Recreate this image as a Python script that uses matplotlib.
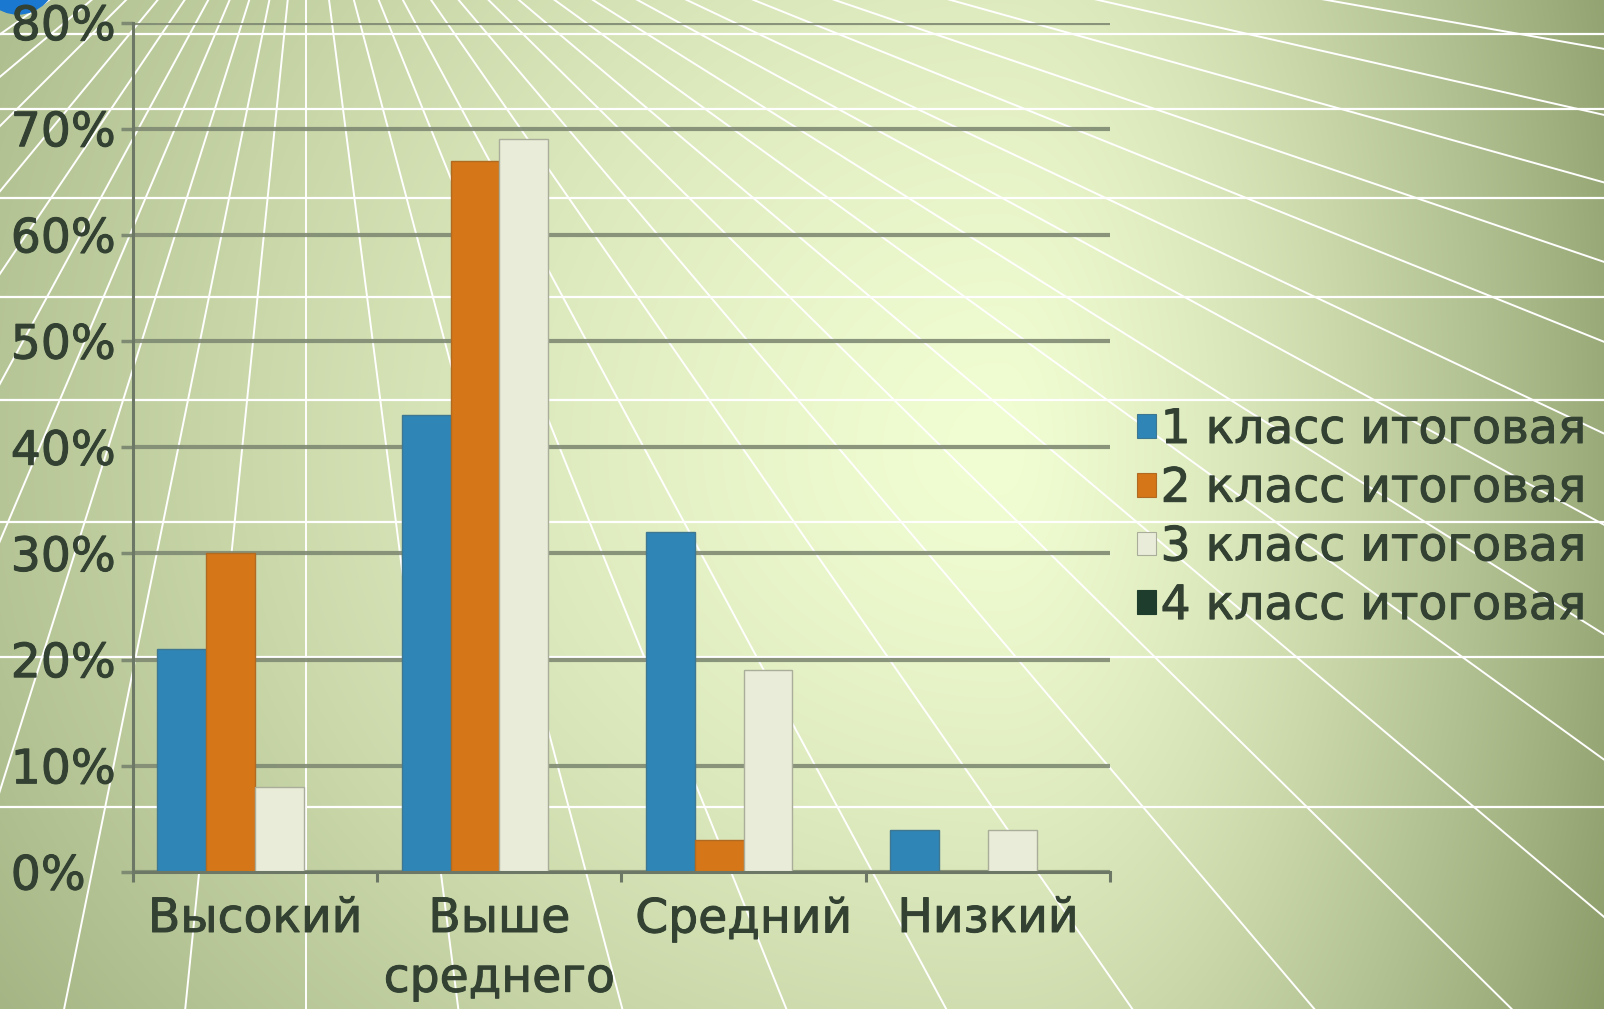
import numpy as np
import matplotlib.pyplot as plt
import matplotlib.patheffects as pe
from matplotlib.patches import Patch, Circle

# данные диаграммы
categories = ['Высокий', 'Выше\nсреднего', 'Средний', 'Низкий']
series_names = ['1 класс итоговая', '2 класс итоговая', '3 класс итоговая', '4 класс итоговая']
class1 = [0.21, 0.43, 0.32, 0.04]
class2 = [0.30, 0.67, 0.03, 0.00]
class3 = [0.08, 0.69, 0.19, 0.04]
class4 = [0.00, 0.00, 0.00, 0.00]
y_ticks = [0.0, 0.1, 0.2, 0.3, 0.4, 0.5, 0.6, 0.7, 0.8]

bar_colors = ['#2e85b6', '#d57618', '#e8ecd9', '#1f3d2c']
edge_colors = ['#3f7690', '#b06a22', '#a9ad9a', '#1f3d2c']
text_col = '#334133'
grid_col = '#7f8a73'
heavy = [pe.withStroke(linewidth=0.7, foreground=text_col)]

W, H = 1604, 1009

fig = plt.figure(figsize=(W / 100, H / 100), dpi=100)

# фон слайда: градиент + белые лучи
bg = fig.add_axes([0, 0, 1, 1])
bg.set_axis_off()
yy, xx = np.mgrid[0:H, 0:W]
cx, cy = 1000, 450
dx = (xx - cx) / np.where(xx < cx, 1500.0, 680.0)
dy = (yy - cy) / np.where(yy > cy, 1250.0, 1500.0)
t = np.clip(np.sqrt(dx ** 2 + dy ** 2), 0, 1) ** 1.4
bright = np.array([241, 253, 210]) / 255
dark = np.array([138, 155, 104]) / 255
img = bright + (dark - bright) * t[..., None]
bg.imshow(img, extent=[0, W, H, 0], aspect='auto', zorder=0)

vp = (306, -180)
ray_angles = [-85, -80, -75, -70, -65, -60, -55, -50, -45, -39.5, -34, -28.5, -23, -17.5, -11.5, -5.8,
              0, 7.3, 14.9, 22.0, 28.3, 34.8, 40.3, 45.4, 49.8, 54.1, 57.9, 61.5, 64.7, 68.1,
              71.2, 74.4, 77.2, 80.0]
for a in ray_angles:
    r = np.radians(a)
    bg.plot([vp[0], vp[0] + 6000 * np.sin(r)], [vp[1], vp[1] + 6000 * np.cos(r)],
            color='white', lw=1.4, zorder=1)
for yh in [34, 109, 198, 297, 400, 522, 657, 807]:
    bg.axhline(yh, color='white', lw=1.6, zorder=1)
bg.add_patch(Circle((18, -24), 38, color='#1b78d0', zorder=2))
bg.set_xlim(0, W)
bg.set_ylim(H, 0)

# сама диаграмма
ax = fig.add_axes([133 / W, 1 - 872 / H, (1110 - 133) / W, (872 - 22.5) / H])
ax.patch.set_alpha(0)

x = np.arange(len(categories))
width = 0.2
all_series = [class1, class2, class3, class4]
for i, vals in enumerate(all_series):
    ax.bar(x + (i - 1.5) * width, vals, width, color=bar_colors[i],
           edgecolor=edge_colors[i], linewidth=1.0, zorder=3)

ax.set_xlim(-0.5, len(categories) - 0.5)
ax.set_ylim(0, 0.8)
ax.set_yticks(y_ticks, labels=['{:.0f}%'.format(v * 100) for v in y_ticks])
ax.set_xticks(x, labels=categories)
ax.set_xticks(np.arange(len(categories) + 1) - 0.5, minor=True)

ax.set_axisbelow(True)
ax.yaxis.grid(True, color=grid_col, lw=3, alpha=0.9)
for s in ['top', 'right']:
    ax.spines[s].set_visible(False)
for s in ['left', 'bottom']:
    ax.spines[s].set_color('#6c7766')
    ax.spines[s].set_linewidth(2.2)
    ax.spines[s].set_zorder(4)

ax.tick_params(axis='y', length=9, width=2.5, color=grid_col, labelsize=34,
               labelcolor=text_col, pad=79)
ax.tick_params(axis='x', which='major', length=0, labelsize=34, labelcolor=text_col, pad=18)
ax.tick_params(axis='x', which='minor', length=7, width=2.2, color='#6c7766', direction='out')
for lbl in ax.get_yticklabels():
    lbl.set_horizontalalignment('left')
    lbl.set_path_effects(heavy)
for lbl in ax.get_xticklabels():
    lbl.set_linespacing(1.42)
    lbl.set_path_effects(heavy)

handles = [Patch(facecolor=bar_colors[i], edgecolor=edge_colors[i], linewidth=0.8)
           for i in range(len(series_names))]
leg = ax.legend(handles, series_names, loc='upper left', bbox_to_anchor=(1137 / W, 1 - 408 / H),
                bbox_transform=fig.transFigure, frameon=False, fontsize=34,
                handlelength=0.4, handleheight=0.4, handletextpad=0.1,
                labelspacing=0.29, borderpad=0, borderaxespad=0)
for txt in leg.get_texts():
    txt.set_color(text_col)
    txt.set_path_effects(heavy)

fig.savefig('out.png', dpi=100)
